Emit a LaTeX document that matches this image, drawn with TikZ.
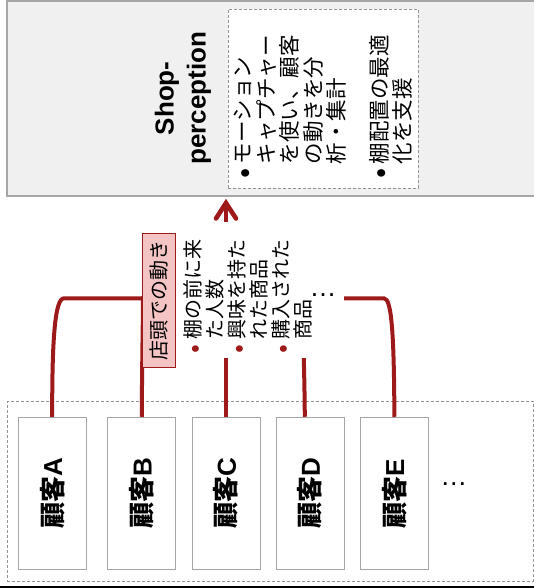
\documentclass[tikz,border=0pt]{standalone}
\usepackage{fontspec}
\usepackage{graphicx}
\setmainfont{Liberation Sans}
\newfontfamily\jp{Noto Sans CJK JP}
\usetikzlibrary{arrows.meta}
\definecolor{dred}{HTML}{9E1A1A}
\definecolor{pinkf}{HTML}{F4C4C4}
\definecolor{mainf}{HTML}{F0F0F0}
\definecolor{edge}{HTML}{A6A6A6}
\newcommand{\bltA}{\makebox[14.6pt][l]{\raisebox{-3.2pt}{\scalebox{1.4}{\textbullet}}}}
\newcommand{\indA}{\hspace*{14.6pt}}
\newcommand{\bltB}{\makebox[14.5pt][l]{\raisebox{-2.2pt}{\scalebox{1.3}{\textcolor{dred}{\textbullet}}}}}
\newcommand{\indB}{\hspace*{14.5pt}}
\tikzset{
  rot/.style={rotate=90,inner sep=0pt},
  custbox/.style={draw=edge,line width=1pt,fill=white,rotate=90,minimum width=152.7pt,minimum height=68pt,inner sep=0pt,
    font=\fontsize{26}{30}\selectfont\bfseries},
  dashbox/.style={draw=gray!85,line width=.7pt,dashed,dash pattern=on 3pt off 2pt,inner sep=0pt},
  link/.style={draw=dred,line width=4pt},
  barb/.style={draw=dred,line width=4.6pt,line cap=round,line join=miter},
  dots/.style={inner sep=0pt,font=\fontsize{27}{30}\selectfont}
}
\begin{document}
\begin{tikzpicture}[x=1pt,y=-1pt]
\useasboundingbox (0,0) rectangle (534,588);
% top block
\node[draw=edge,line width=1.5pt,fill=mainf,minimum width=529pt,minimum height=195pt,inner sep=0pt] (shop) at (271.5,98.5) {};
\node[dashbox,fill=white,minimum width=190pt,minimum height=179.3pt] (tasks) at (323,98.7) {};
\node[rot,align=center,font=\fontsize{26}{32}\selectfont\bfseries] (shoplabel) at (183,98.3) {Shop-\\perception};
\node[rot,align=left,text width=159.9pt,font=\fontsize{21.5}{23.5}\selectfont\jp] (tasktext) at (323.5,98.7) {%
\bltA モーション\\\indA キャプチャー\\\indA を使い、顧客\\\indA の動きを分\\\indA 析・集計\\[19pt]\bltA 棚配置の最適\\\indA 化を支援};
% customers
\node[dashbox,minimum width=525.8pt,minimum height=180pt] (group) at (270.2,491.2) {};
\node[custbox] (a) at (52.2,493.6) {{\jp 顧客}A};
\node[custbox] (b) at (141.8,493.6) {{\jp 顧客}B};
\node[custbox] (c) at (226,493.6) {{\jp 顧客}C};
\node[custbox] (d) at (310,493.6) {{\jp 顧客}D};
\node[custbox] (e) at (394.4,493.6) {{\jp 顧客}E};
\node[dots] (moreb) at (453.8,484.3) {…};
% connectors
\coordinate (hub) at (226,298.3);
\coordinate (tip) at (226,203);
\coordinate (wingL) at (216,218.5);
\coordinate (wingR) at (236,218.5);
\coordinate (dtop) at ([xshift=-5.2pt]d.east);
\draw[link] (a.east) .. controls (52,338) and (55,298.3) .. (64,298.3) -- (hub);
\draw[link] (b.east) .. controls (142,360) and (143,320) .. (143,298.3) -- (hub);
\draw[link] (c.east) -- (hub);
\draw[link] (dtop) .. controls (304.5,370) and (302.5,320) .. (302.5,298.3) -- (hub);
\draw[link] (e.east) .. controls (394,338) and (392,298.3) .. (384,298.3) -- (hub);
\draw[link] (hub) -- (tip);
\draw[barb] (wingL) -- (tip) -- (wingR);
% labels over connectors
\node[rot,fill=white,align=left,text width=127.4pt,minimum width=136.3pt,minimum height=168pt,inner xsep=4.45pt,
  font=\fontsize{20}{22}\selectfont\jp] (facts) at (260,290.2) {%
\bltB 棚の前に来\\\indB た人数\\\bltB 興味を持た\\\indB れた商品\\\bltB 購入された\\\indB 商品\\[3pt]\mbox{}};
\node[dots] (morea) at (323,295.3) {…};
\node[draw=dred,line width=.8pt,fill=pinkf,rot,minimum width=134.4pt,minimum height=33pt,font=\fontsize{20}{22}\selectfont\jp] (tag) at (159.2,300.5) {店頭での動き};
% bottom edge rule
\coordinate (ruleL) at (0,587.2);
\coordinate (ruleR) at (534,587.2);
\draw[black,line width=1.6pt] (ruleL) -- (ruleR);
\end{tikzpicture}
\end{document}
